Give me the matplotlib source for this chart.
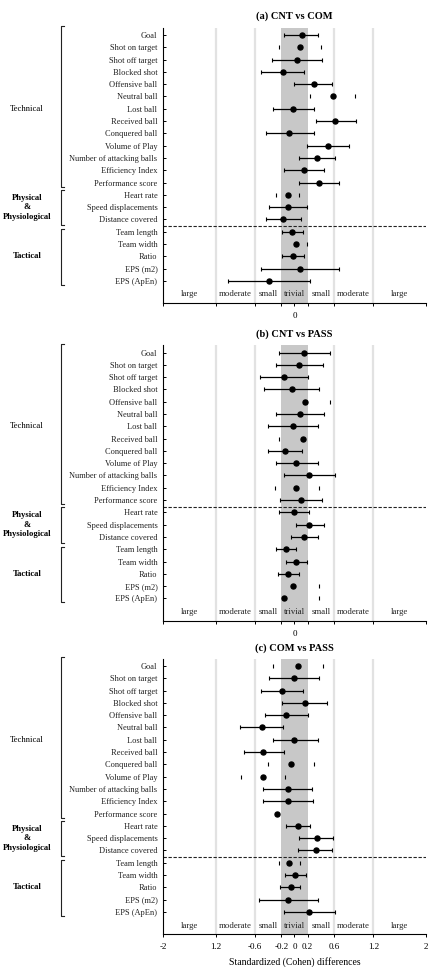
import numpy as np
import matplotlib.pyplot as plt
from matplotlib import transforms

plt.rcParams['font.family'] = ['Liberation Serif', 'DejaVu Serif']

rows = ["Goal", "Shot on target", "Shot off target", "Blocked shot", "Offensive ball",
        "Neutral ball", "Lost ball", "Received ball", "Conquered ball", "Volume of Play",
        "Number of attacking balls", "Efficiency Index", "Performance score",
        "Heart rate", "Speed displacements", "Distance covered",
        "Team length", "Team width", "Ratio", "EPS (m2)", "EPS (ApEn)"]

groups = ["Technical", "Physical\n&\nPhysiological", "Tactical"]
group_first = ["Goal", "Heart rate", "Team length"]
group_last = ["Performance score", "Distance covered", "EPS (ApEn)"]

titles = ["(a) CNT vs COM", "(b) CNT vs PASS", "(c) COM vs PASS"]
sep_after = ["Distance covered", "Performance score", "Distance covered"]

# effect size and confidence limits (Cohen d)
es_a = [0.11, 0.08, 0.04, -0.18, 0.29, 0.58, -0.02, 0.62, -0.08, 0.51, 0.34, 0.15, 0.37,
        -0.10, -0.10, -0.17, -0.04, 0.03, -0.02, 0.08, -0.39]
lo_a = [-0.155, -0.24, -0.34, -0.51, 0.0, 0.24, -0.32, 0.33, -0.44, 0.19, 0.07, -0.165, 0.07,
        -0.28, -0.39, -0.44, -0.195, 0.02, -0.185, -0.515, -1.005]
hi_a = [0.35, 0.40, 0.42, 0.15, 0.575, 0.925, 0.29, 0.93, 0.29, 0.83, 0.62, 0.45, 0.67,
        0.07, 0.195, 0.095, 0.125, 0.195, 0.14, 0.68, 0.23]

es_b = [0.15, 0.07, -0.155, -0.045, 0.16, 0.08, -0.03, 0.135, -0.145, 0.03, 0.225, 0.03, 0.10,
        -0.01, 0.225, 0.145, -0.135, 0.03, -0.10, -0.02, -0.165]
lo_b = [-0.24, -0.285, -0.52, -0.46, 0.14, -0.285, -0.41, -0.23, -0.40, -0.285, -0.165, -0.30, -0.22,
        -0.23, 0.02, -0.05, -0.285, -0.13, -0.255, -0.03, -0.17]
hi_b = [0.54, 0.43, 0.21, 0.38, 0.535, 0.445, 0.35, 0.15, 0.11, 0.35, 0.62, 0.38, 0.42,
        0.22, 0.445, 0.35, 0.025, 0.195, 0.07, 0.38, 0.38]

es_c = [0.05, 0.0, -0.185, 0.16, -0.125, -0.49, 0.0, -0.475, -0.05, -0.475, -0.105, -0.105, -0.265,
        0.06, 0.34, 0.32, -0.09, 0.015, -0.06, -0.10, 0.225]
lo_c = [-0.33, -0.39, -0.505, -0.19, -0.445, -0.825, -0.33, -0.775, -0.41, -0.81, -0.475, -0.475, -0.265,
        -0.125, 0.07, 0.055, -0.24, -0.14, -0.215, -0.535, -0.165]
hi_c = [0.44, 0.38, 0.125, 0.50, 0.21, -0.17, 0.35, -0.165, 0.30, -0.14, 0.265, 0.285, -0.265,
        0.24, 0.59, 0.575, 0.08, 0.175, 0.09, 0.35, 0.61]

# rows where only the caps show in the original
caps_only = [["Shot on target", "Neutral ball", "Heart rate", "Team width"],
             ["Offensive ball", "Received ball", "Efficiency Index", "EPS (m2)", "EPS (ApEn)"],
             ["Goal", "Conquered ball", "Volume of Play", "Performance score", "Team length"]]

mag_labels = ["large", "moderate", "small", "trivial", "small", "moderate", "large"]
mag_pos = [-1.6, -0.9, -0.4, 0.0, 0.4, 0.9, 1.6]
xticks = [-2, -1.2, -0.6, -0.2, 0, 0.2, 0.6, 1.2, 2]
xticklabels_c = ["-2", "1.2", "-0.6", "-0.2", "0", "0.2", "0.6", "1.2", "2"]


def draw_panel(ax, title, es, lo, hi, faint, sep, last):
    y = np.arange(len(rows))
    es = np.array(es)
    err = np.array([es - np.array(lo), np.array(hi) - es])
    ax.axvspan(-0.2, 0.2, color='#c8c8c8', lw=0, zorder=0)
    for v in [-1.2, -0.6, 0.6, 1.2]:
        ax.axvline(v, color='#e2e2e2', lw=1.6, zorder=0)
    ax.axhline(rows.index(sep) + 0.55, color='#222222', ls=(0, (3, 1.5)), lw=0.8)

    m = np.array([r in faint for r in rows])
    ax.errorbar(es[~m], y[~m], xerr=err[:, ~m], fmt='o', color='black', ms=3.6,
                elinewidth=0.9, capsize=1.6, capthick=0.8, zorder=3)
    ax.errorbar(es[m], y[m], xerr=err[:, m], fmt='o', color='black', ms=3.6,
                elinewidth=0, capsize=1.6, capthick=0.8, zorder=3)

    for lab, p in zip(mag_labels, mag_pos):
        ax.text(p, 21.1, lab, ha='center', va='center', fontsize=6.3, color='#222222')

    ax.set_xlim(-2, 2)
    ax.set_ylim(21.8, -0.6)
    ax.set_yticks(y)
    ax.set_yticklabels(rows, fontsize=6, color='#222222')
    ax.tick_params(axis='y', direction='in', length=2.5, width=0.7, pad=4)
    ax.set_xticks(xticks)
    if last:
        ax.set_xticklabels(xticklabels_c, fontsize=6.5)
        ax.set_xlabel("Standardized (Cohen) differences", fontsize=7, labelpad=4)
    else:
        ax.set_xticklabels(["0" if t == 0 else "" for t in xticks], fontsize=6.5)
    ax.tick_params(axis='x', direction='out', length=2.5, width=0.7, pad=4)
    for s in ['top', 'right']:
        ax.spines[s].set_visible(False)
    for s in ['left', 'bottom']:
        ax.spines[s].set_linewidth(0.8)
    ax.set_title(title, fontsize=7.5, fontweight='bold', pad=6)

    trans = transforms.blended_transform_factory(ax.transAxes, ax.transData)
    bx = -0.388
    tops = [-0.7, 12.6, 15.8]
    bots = [12.35, 15.45, 20.3]
    for g, t, b, f, l in zip(groups, tops, bots, group_first, group_last):
        ax.plot([bx + 0.012, bx, bx, bx + 0.012], [t, t, b, b], color='#222222', lw=0.8,
                transform=trans, clip_on=False)
        yc = (rows.index(f) + rows.index(l)) / 2
        ax.text(-0.518, yc, g, transform=trans, ha='center', va='center', fontsize=6.2,
                fontweight='normal' if g == "Technical" else 'bold', linespacing=1.25)


fig = plt.figure(figsize=(4.35, 9.67), dpi=100)
data = [(es_a, lo_a, hi_a), (es_b, lo_b, hi_b), (es_c, lo_c, hi_c)]
bottoms = [0.6866, 0.3582, 0.0340]
for i in range(3):
    ax = fig.add_axes([0.3747, bottoms[i], 0.6046, 0.2849])
    es, lo, hi = data[i]
    draw_panel(ax, titles[i], es, lo, hi, caps_only[i], sep_after[i], i == 2)

fig.savefig("out.png", dpi=100)
